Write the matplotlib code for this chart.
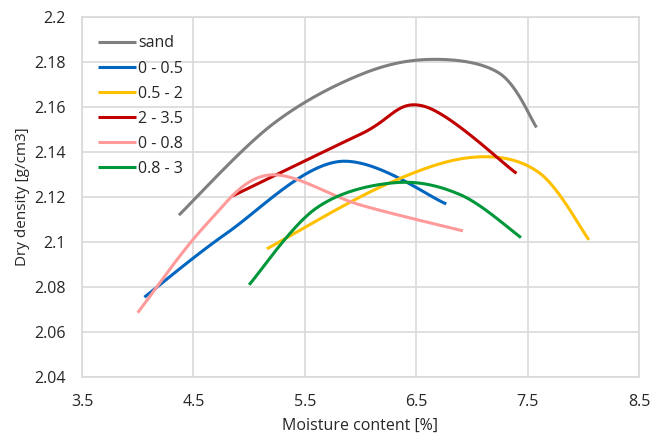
import numpy as np
import matplotlib
matplotlib.use("Agg")
import matplotlib.pyplot as plt

plt.rcParams['font.family'] = ['Open Sans', 'DejaVu Sans']

labels = ["sand", "0 - 0.5", "0.5 - 2", "2 - 3.5", "0 - 0.8", "0.8 - 3"]
colors = ["#7f7f7f", "#0066c0", "#ffc000", "#c00000", "#ff9a9a", "#00973a"]

sand_x = [4.37, 5.2, 6.0, 6.65, 7.25, 7.58]
sand_y = [2.112, 2.152, 2.1745, 2.1813, 2.175, 2.151]

b05_x = [4.06, 4.8, 5.8, 6.77]
b05_y = [2.0755, 2.104, 2.1358, 2.117]

y052_x = [5.16, 6.2, 7.0, 7.6, 8.05]
y052_y = [2.097, 2.125, 2.1377, 2.131, 2.101]

r235_x = [4.85, 6.0, 6.565, 7.4]
r235_y = [2.1205, 2.148, 2.1605, 2.1306]

p08_x = [4.0, 4.6, 5.17, 6.0, 6.92]
p08_y = [2.0686, 2.107, 2.1298, 2.1165, 2.105]

g083_x = [5.0, 5.6, 6.3, 6.9, 7.44]
g083_y = [2.081, 2.115, 2.1264, 2.121, 2.102]

series_x = [sand_x, b05_x, y052_x, r235_x, p08_x, g083_x]
series_y = [sand_y, b05_y, y052_y, r235_y, p08_y, g083_y]

x_ticks = [3.5, 4.5, 5.5, 6.5, 7.5, 8.5]
y_ticks = [2.04, 2.06, 2.08, 2.1, 2.12, 2.14, 2.16, 2.18, 2.2]

SX, SY = 111.4, 2248.0  # display scale for smoothing (px per unit)


def smooth(xs, ys, n=40):
    p = np.column_stack([np.asarray(xs) * SX, np.asarray(ys) * SY])
    out = [p[0]]
    m = len(p)
    for i in range(m - 1):
        p0 = p[i - 1] if i > 0 else p[i]
        p1 = p[i]
        p2 = p[i + 1]
        p3 = p[i + 2] if i + 2 < m else p[i + 1]
        c1 = p1 + (p2 - p0) / 6.0
        c2 = p2 - (p3 - p1) / 6.0
        t = np.linspace(0, 1, n)[1:, None]
        seg = ((1 - t) ** 3) * p1 + 3 * ((1 - t) ** 2) * t * c1 + 3 * (1 - t) * t ** 2 * c2 + t ** 3 * p2
        out.extend(seg)
    out = np.array(out)
    return out[:, 0] / SX, out[:, 1] / SY


fig = plt.figure(figsize=(6.5, 4.34), dpi=100)
ax = fig.add_axes([82 / 650, 57 / 434, 557 / 650, 359.7 / 434])

for xs, ys, c, lab in zip(series_x, series_y, colors, labels):
    sx, sy = smooth(xs, ys)
    ax.plot(sx, sy, color=c, lw=2.2, label=lab, solid_capstyle='butt')

ax.set_xlim(3.5, 8.5)
ax.set_ylim(2.04, 2.2)
ax.set_xticks(x_ticks)
ax.set_xticklabels([f"{v:g}" for v in x_ticks])
ax.set_yticks(y_ticks)
ax.set_yticklabels([f"{v:g}" for v in y_ticks])
ax.grid(True, color="#d9d9d9", lw=1.2)
ax.set_axisbelow(True)
for s in ax.spines.values():
    s.set_color("#d9d9d9")
    s.set_linewidth(1.2)
ax.tick_params(length=0, labelsize=11.5, colors="#262626")
ax.tick_params(axis='y', pad=12)
ax.tick_params(axis='x', pad=12)

ax.set_xlabel("Moisture content [%]", fontsize=11.5, color="#262626", labelpad=6)
ax.set_ylabel("Dry density [g/cm3]", fontsize=11, color="#262626", labelpad=3)

leg = ax.legend(loc='upper left', bbox_to_anchor=(0.005, 0.985), frameon=False,
                fontsize=11.5, handlelength=2.4, handletextpad=0.15,
                labelspacing=0.57, borderpad=0.3)
for t in leg.get_texts():
    t.set_color("#262626")

fig.savefig("out.png", dpi=100)
